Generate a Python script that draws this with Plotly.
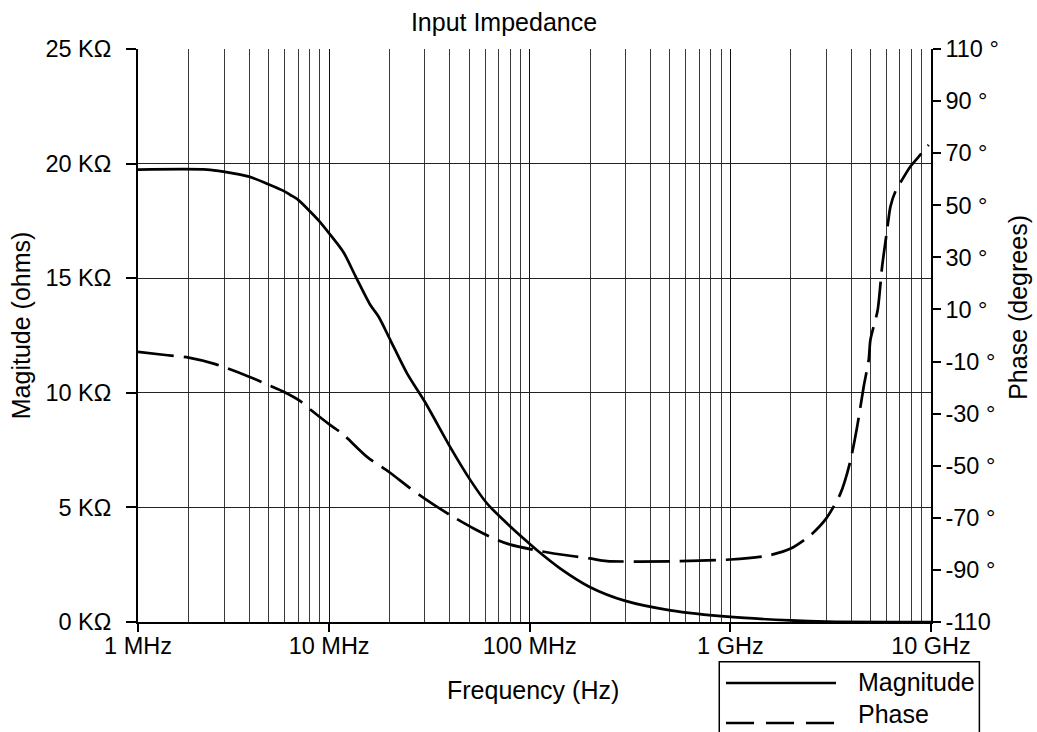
import math
import plotly.graph_objects as go

# Input impedance magnitude: frequency (MHz) vs impedance (kΩ)
mag_freq_mhz = [1.115, 2.462, 2.970, 3.988, 4.975, 5.961, 6.407, 6.941, 8.060, 8.968,
                10.14, 11.81, 13.51, 16.05, 17.65, 20.19, 24.45, 29.94, 40.20, 50.57,
                61.25, 77.09, 93.2, 108.7, 142.1, 198.9, 299.6, 502.2, 1000, 1998,
                3000, 10000]
mag_kohm = [19.74, 19.74, 19.65, 19.43, 19.1, 18.8, 18.63, 18.45, 17.90, 17.47,
            16.89, 16.12, 15.1, 13.83, 13.32, 12.30, 10.85, 9.62, 7.62, 6.19,
            5.17, 4.30, 3.64, 3.13, 2.33, 1.53, 0.92, 0.51, 0.22, 0.07,
            0.02, 0.0]

# Input impedance phase: frequency (MHz) vs phase (degrees)
phase_freq_mhz = [1.115, 1.526, 1.994, 2.709, 3.988, 4.372, 4.975, 5.933, 7.183, 8.060,
                  10.14, 11.60, 15.45, 19.89, 25.40, 29.94, 40.20, 52.52, 66.07, 80.07,
                  112.9, 131.6, 198.9, 242.8, 502.2, 1000, 1524, 1998, 2505, 3000,
                  3535, 3937, 4282, 4618, 4891, 4988, 5424, 5705, 6041, 6277,
                  6645, 7176, 7894, 8855, 9739]
phase_deg = [-6.3, -7.5, -8.5, -11.0, -15.8, -17.1, -19.0, -21.6, -25.2, -28.4,
             -34.4, -37.6, -46.6, -52.4, -58.7, -62.6, -69.0, -74.1, -77.9, -80.3,
             -82.8, -83.7, -85.6, -86.6, -86.7, -86.0, -84.6, -81.8, -76.7, -70.3,
             -60.7, -49.1, -35.1, -19.7, -9.4, -1.7, 9.8, 26.4, 40.5, 49.5,
             55.3, 59.8, 64.9, 69.4, 73.2]

# Axis extents and ticks (the frequency scale opens at its first labelled tick)
freq_start_hz = 1.115e6
freq_end_hz = 1e10
freq_ticks_hz = [freq_start_hz, 1e7, 1e8, 1e9, 1e10]
freq_tick_text = ["1 MHz", "10 MHz", "100 MHz", "1 GHz", "10 GHz"]
mag_ticks = [0, 5, 10, 15, 20, 25]
mag_tick_text = ["0 KΩ", "5 KΩ", "10 KΩ", "15 KΩ", "20 KΩ", "25 KΩ"]
phase_ticks = [-110, -90, -70, -50, -30, -10, 10, 30, 50, 70, 90, 110]
phase_tick_text = ["-110", "-90 °", "-70 °", "-50 °", "-30 °", "-10 °",
                   "10 °", "30 °", "50 °", "70 °", "90 °", "110 °"]

series_names = ["Magnitude", "Phase"]

FONT = "Liberation Sans, Arial, sans-serif"
INK = "black"

mag_freq_hz = [f * 1e6 for f in mag_freq_mhz]
phase_freq_hz = [f * 1e6 for f in phase_freq_mhz]

# minor log gridlines at 2..9 of every decade
minor_vals = [k * 10 ** d for d in range(6, 10) for k in range(2, 10)]

fig = go.Figure()
fig.add_trace(go.Scatter(
    x=mag_freq_hz, y=mag_kohm, name=series_names[0], mode="lines",
    line=dict(color=INK, width=2.7, shape="spline", smoothing=0.8),
    yaxis="y", showlegend=False,
))
fig.add_trace(go.Scatter(
    x=phase_freq_hz, y=phase_deg, name=series_names[1], mode="lines",
    line=dict(color=INK, width=2.7, dash="36px,10px", shape="spline", smoothing=0.7),
    yaxis="y2", showlegend=False,
))

fig.update_layout(
    width=1037, height=732, autosize=False,
    margin=dict(l=138, r=106, t=49, b=110),
    paper_bgcolor="white", plot_bgcolor="white",
    font=dict(family=FONT, size=23.5, color=INK),
    title=dict(text="Input Impedance", x=504 / 1037, xanchor="center",
               y=1 - 22.5 / 732, yanchor="middle", font=dict(size=25)),
    xaxis=dict(
        type="log", range=[math.log10(freq_start_hz), math.log10(freq_end_hz)],
        tickmode="array", tickvals=freq_ticks_hz, ticktext=freq_tick_text,
        ticks="outside", ticklen=8, tickwidth=2, tickcolor=INK,
        showline=True, linecolor=INK, linewidth=2,
        showgrid=True, gridcolor="#111", gridwidth=1,
        minor=dict(tickvals=minor_vals, showgrid=True, gridcolor="#3a3a3a", gridwidth=1, ticks=""),
        zeroline=False, ticklabelstandoff=-6,
    ),
    yaxis=dict(
        range=[0, 25],
        tickmode="array", tickvals=mag_ticks, ticktext=mag_tick_text,
        ticks="outside", ticklen=10, tickwidth=1.5, tickcolor=INK,
        showline=True, linecolor=INK, linewidth=2,
        showgrid=True, gridcolor="#222", gridwidth=1,
        zeroline=False, ticklabelstandoff=10,
    ),
    yaxis2=dict(
        range=[-110, 110], overlaying="y", side="right",
        tickmode="array", tickvals=phase_ticks, ticktext=phase_tick_text,
        ticks="outside", ticklen=8, tickwidth=1.5, tickcolor=INK,
        showline=True, linecolor=INK, linewidth=1.5,
        showgrid=False, zeroline=False, ticklabelstandoff=0,
    ),
    # inner halves of the phase ticks, so they cross the right axis line
    yaxis3=dict(
        range=[-110, 110], overlaying="y", side="right",
        tickmode="array", tickvals=phase_ticks[1:-1],
        ticks="inside", ticklen=7, tickwidth=1.5, tickcolor=INK,
        showticklabels=False, showline=False, showgrid=False, zeroline=False,
    ),
)

# axis titles
fig.add_annotation(text="Magitude (ohms)", xref="paper", yref="paper",
                   x=-0.1475, y=0.518, textangle=-90, showarrow=False,
                   xanchor="center", yanchor="middle", font=dict(size=25))
fig.add_annotation(text="Phase (degrees)", xref="paper", yref="paper",
                   x=1.1097, y=0.55, textangle=-90, showarrow=False,
                   xanchor="center", yanchor="middle", font=dict(size=25))
fig.add_annotation(text="Frequency (Hz)", xref="paper", yref="paper",
                   x=0.498, y=-0.1187, showarrow=False,
                   xanchor="center", yanchor="middle", font=dict(size=25))

# legend box with long line samples
fig.add_shape(type="rect", xref="paper", yref="paper",
              x0=0.733, x1=1.061, y0=-0.0693, y1=-0.30,
              line=dict(color=INK, width=1.5), fillcolor="white", layer="above")
fig.add_shape(type="line", xref="paper", yref="paper",
              x0=0.7415, x1=0.8802, y0=-0.1065, y1=-0.1065,
              line=dict(color=INK, width=2.5), layer="above")
fig.add_shape(type="line", xref="paper", yref="paper",
              x0=0.7415, x1=0.8802, y0=-0.1763, y1=-0.1763,
              line=dict(color=INK, width=2.5, dash="28px,12px"), layer="above")
fig.add_annotation(text=series_names[0], xref="paper", yref="paper",
                   x=0.905, y=-0.105, xanchor="left", yanchor="middle",
                   showarrow=False, font=dict(size=25))
fig.add_annotation(text=series_names[1], xref="paper", yref="paper",
                   x=0.905, y=-0.1606, xanchor="left", yanchor="middle",
                   showarrow=False, font=dict(size=25))

fig.write_html("out.html")
